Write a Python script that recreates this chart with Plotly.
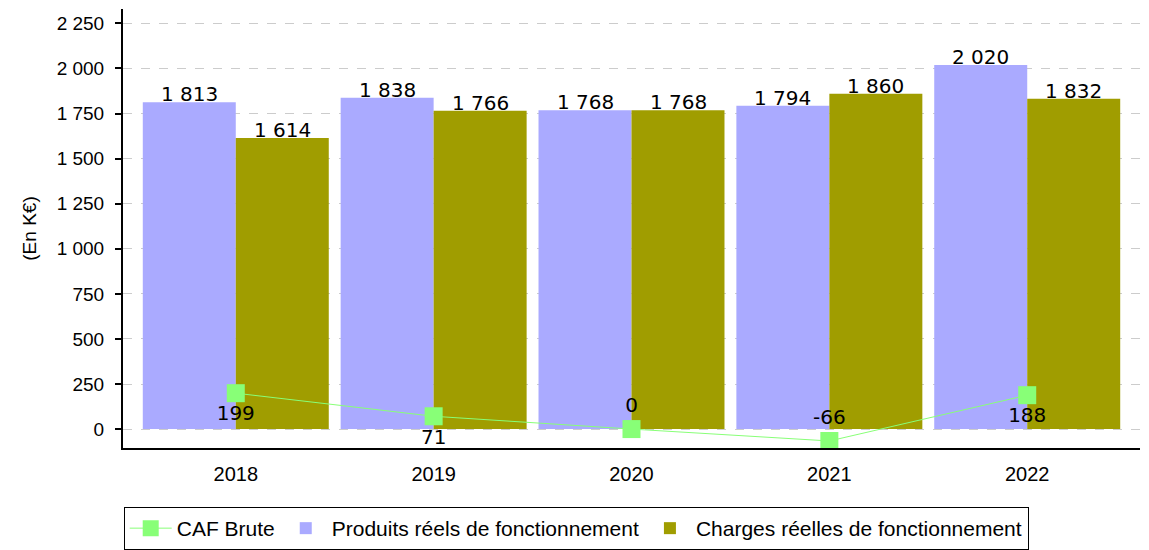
import plotly.graph_objects as go

years = ["2018", "2019", "2020", "2021", "2022"]
produits = [1813, 1838, 1768, 1794, 2020]
charges = [1614, 1766, 1768, 1860, 1832]
caf = [199, 71, 0, -66, 188]

LABEL_FONT = dict(family="DejaVu Sans", size=20, color="black")
AX_FONT = dict(family="Liberation Sans", size=19, color="black")

def fmt(v):
    return f"{v:,}".replace(",", " ")

fig = go.Figure()
fig.add_trace(go.Scatter(
    x=years, y=caf, name="CAF Brute", mode="lines+markers+text",
    line=dict(color="#88ff77", width=1),
    marker=dict(symbol="square", size=18, color="#88ff77"),
    text=[fmt(v) for v in caf],
    textposition=["bottom center" if v > 0 else "top center" for v in caf],
    textfont=LABEL_FONT,
    cliponaxis=False,
))
fig.add_trace(go.Bar(
    x=years, y=produits, name="Produits réels de fonctionnement",
    marker=dict(color="#aaaaff", line=dict(width=0)),
))
fig.add_trace(go.Bar(
    x=years, y=charges, name="Charges réelles de fonctionnement",
    marker=dict(color="#a09d00", line=dict(width=0)),
))

annotations = []
for series, shift in ((produits, -46.5), (charges, 46.5)):
    for i, v in enumerate(series):
        annotations.append(dict(
            x=i, y=v, xref="x", yref="y", text=fmt(v), showarrow=False,
            xanchor="center", yanchor="middle", xshift=shift, yshift=8,
            font=LABEL_FONT,
        ))

fig.update_layout(
    width=1141, height=542,
    margin=dict(l=115, r=9, t=1, b=102, autoexpand=False),
    paper_bgcolor="white", plot_bgcolor="white",
    separators=", ",
    barmode="group", bargap=0.06, bargroupgap=0,
    font=AX_FONT,
    showlegend=True,
    annotations=annotations,
    legend=dict(
        orientation="h", traceorder="normal", itemwidth=42,
        xref="container", yref="container",
        x=0.498, xanchor="center", y=(542 - 499) / 542, yanchor="top",
        bordercolor="black", borderwidth=1,
        font=dict(family="Liberation Sans", size=21, color="black"),
    ),
)
fig.update_xaxes(
    type="category", range=[-0.57, 4.57], automargin=False,
    showline=True, linecolor="black", linewidth=2,
    ticks="", showgrid=False, ticklabelstandoff=7,
    tickfont=dict(family="Liberation Sans", size=20),
)
fig.update_yaxes(
    range=[-105, 2330], dtick=250, tick0=0, tickformat=",d", automargin=False,
    showline=True, linecolor="black", linewidth=2,
    ticks="outside", ticklen=6, tickcolor="black", tickwidth=2, ticklabelstandoff=7,
    showgrid=True, gridcolor="#cccccc", griddash="dash", gridwidth=1,
    zeroline=False,
    title=dict(text="(En K€)", font=dict(family="Liberation Sans", size=19), standoff=15),
    tickfont=AX_FONT,
)
fig.write_html("out.html")
